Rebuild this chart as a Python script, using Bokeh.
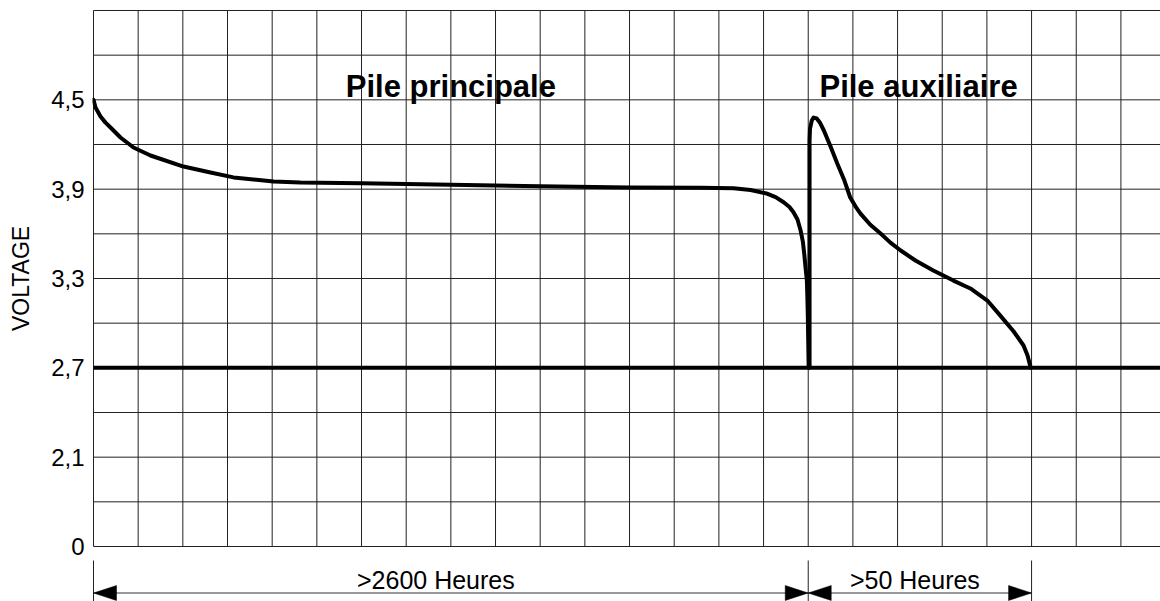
from bokeh.plotting import figure
from bokeh.layouts import column
from bokeh.models import Range1d, FixedTicker
from bokeh.core.properties import value
from bokeh.embed import file_html
from bokeh.resources import INLINE

# ---------------- data ----------------
# x in grid columns (time, arbitrary scale), y in volts (axis starts at a break shown as "0")
main_x = [0.0, 0.045, 0.157, 0.269, 0.381, 0.604, 0.895, 1.276, 2.015, 2.619, 3.134, 4.03, 4.63,
          6.0, 8.0, 10.0, 12.0, 13.59, 14.33, 14.71, 15.09, 15.27, 15.45, 15.58, 15.67, 15.76,
          15.83, 15.88, 15.91, 15.94, 15.97, 15.98, 15.99, 16.0, 16.01]
main_y = [4.5, 4.448, 4.388, 4.347, 4.314, 4.247, 4.18, 4.126, 4.052, 4.012, 3.979, 3.952, 3.945,
          3.94, 3.93, 3.92, 3.912, 3.909, 3.906, 3.894, 3.869, 3.847, 3.812, 3.78, 3.745, 3.696,
          3.622, 3.548, 3.468, 3.374, 3.286, 3.186, 3.063, 2.883, 2.70]

aux_x = [16.03, 16.03, 16.04, 16.08, 16.12, 16.19, 16.26, 16.35, 16.50, 16.65, 16.81, 16.94,
         17.06, 17.17, 17.39, 17.62, 17.84, 18.07, 18.40, 18.80, 19.25, 19.63, 20.01, 20.30,
         20.60, 20.82, 20.91, 20.98]
aux_y = [2.70, 4.227, 4.307, 4.361, 4.381, 4.375, 4.348, 4.294, 4.186, 4.072, 3.958, 3.844,
         3.783, 3.736, 3.661, 3.602, 3.541, 3.488, 3.421, 3.354, 3.286, 3.233, 3.152, 3.051,
         2.944, 2.85, 2.783, 2.70]

cutoff_voltage = 2.7

ytick_vals = [1.5, 2.1, 2.7, 3.3, 3.9, 4.5]
ytick_labels = ["0", "2,1", "2,7", "3,3", "3,9", "4,5"]

titles = ["Pile principale", "Pile auxiliaire"]
duration_labels = [">2600 Heures", ">50 Heures"]
span_start = [0, 16]
span_end = [16, 21]

# ---------------- layout constants ----------------
PX = 44.67            # pixels per grid cell
VY = 0.3              # volts per grid row
GRID_BOTTOM, GRID_TOP = 1.5, 5.1
N_COLS = 24
dy = VY / PX          # volts per pixel
dx = 1.0 / PX         # columns per pixel
FRAME_W = 1068
x_start = -1.0 * dx
x_end = x_start + FRAME_W * dx
y_end = GRID_TOP + 2 * dy
y_start = GRID_BOTTOM - 2 * dy
TITLE_X = [8.0, 18.47]
DUR_X_OFFSET = [-15, -5]

FONT = "Liberation Sans"
GRID_COLOR = "#222222"

xr = Range1d(x_start, x_end)

p = figure(width=1160, height=560, output_backend="svg", toolbar_location=None,
           x_range=xr, y_range=Range1d(y_start, y_end),
           x_axis_location=None,
           min_border_left=92, min_border_right=0, min_border_top=8, min_border_bottom=12)
p.grid.visible = False
p.outline_line_color = None
p.background_fill_color = "white"
p.border_fill_color = "white"

ax = p.yaxis[0]
ax.ticker = FixedTicker(ticks=ytick_vals)
ax.major_label_overrides = {v: s for v, s in zip(ytick_vals, ytick_labels)}
ax.axis_line_color = None
ax.major_tick_line_color = None
ax.minor_tick_line_color = None
ax.major_tick_out = 0
ax.major_tick_in = 0
ax.minor_tick_out = 0
ax.minor_tick_in = 0
ax.major_label_standoff = 8
ax.major_label_text_font = FONT
ax.major_label_text_font_size = "24px"
ax.major_label_text_color = "black"
ax.axis_label = "VOLTAGE"
ax.axis_label_text_font = FONT
ax.axis_label_text_font_size = "23px"
ax.axis_label_text_font_style = "normal"
ax.axis_label_text_color = "black"
ax.axis_label_standoff = 14

# grid
gx = list(range(N_COLS))
p.segment(x0=gx, y0=[GRID_BOTTOM] * len(gx), x1=gx, y1=[GRID_TOP] * len(gx),
          line_color=GRID_COLOR, line_width=1)
gy = [GRID_BOTTOM + VY * k for k in range(13)]
p.segment(x0=[0] * len(gy), y0=gy, x1=[x_end + 1] * len(gy), y1=gy,
          line_color=GRID_COLOR, line_width=1)

# cutoff line
p.segment(x0=[0], y0=[cutoff_voltage], x1=[x_end + 1], y1=[cutoff_voltage],
          line_color="black", line_width=4)

# curves
p.line(main_x, main_y, line_color="black", line_width=4, line_join="round", line_cap="round")
p.line(aux_x, aux_y, line_color="black", line_width=4, line_join="round", line_cap="round")

# titles
p.text(x=TITLE_X, y=[GRID_BOTTOM + 459.7 * dy] * 2, text=titles,
       text_font=value(FONT), text_font_style="bold", text_font_size="31px",
       text_align="center", text_baseline="alphabetic", text_color="black")

# ---------------- dimension strip below the grid ----------------
STRIP_H = 41
q = figure(width=1160, height=STRIP_H, output_backend="svg", toolbar_location=None,
           x_range=xr, y_range=Range1d(0, STRIP_H),
           x_axis_location=None, y_axis_location=None,
           min_border_left=92, min_border_right=0, min_border_top=0, min_border_bottom=0)
q.grid.visible = False
q.outline_line_color = None
q.background_fill_color = "white"
q.border_fill_color = "white"

arrow_y = 8.5
edges = sorted(set(span_start + span_end))
q.segment(x0=edges, y0=[STRIP_H + 1] * len(edges), x1=edges, y1=[-1] * len(edges),
          line_color=GRID_COLOR, line_width=1)
q.segment(x0=span_start, y0=[arrow_y] * 2, x1=span_end, y1=[arrow_y] * 2,
          line_color="#333333", line_width=1)
L = 23 * dx
H = 7.5
xs, ys = [], []
for a, b in zip(span_start, span_end):
    xs.append([a, a + L, a + L]); ys.append([arrow_y, arrow_y + H, arrow_y - H])
    xs.append([b, b - L, b - L]); ys.append([arrow_y, arrow_y + H, arrow_y - H])
q.patches(xs, ys, fill_color="black", line_color="black", line_width=0.5)
q.text(x=[(a + b) / 2 for a, b in zip(span_start, span_end)], y=[22] * 2,
       x_offset=DUR_X_OFFSET,
       text=duration_labels, text_font=value(FONT), text_font_size="25px",
       text_align="center", text_baseline="alphabetic", text_color="black")

layout = column(p, q, spacing=0)
open("out.html", "w").write(file_html(layout, INLINE))
